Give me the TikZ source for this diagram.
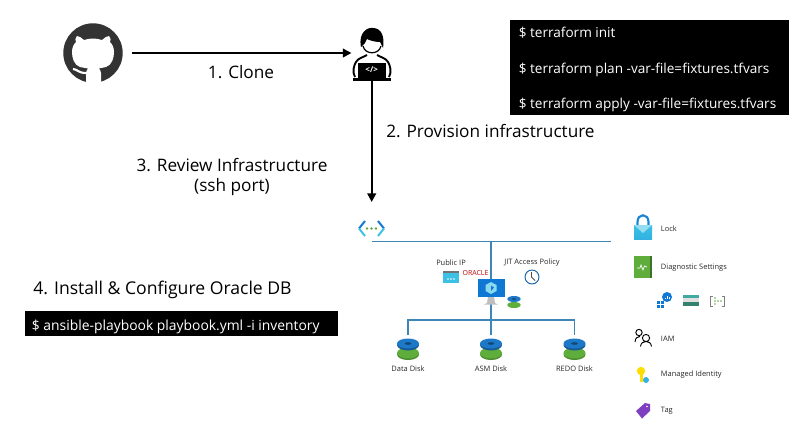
\documentclass[tikz,border=0pt]{standalone}
\usepackage{fontspec}
\usetikzlibrary{arrows.meta}
\setmainfont{Open Sans}
\definecolor{busblue}{HTML}{3F86B8}
\definecolor{diskblue}{HTML}{1E78C8}
\definecolor{diskgreen}{HTML}{5FAE3C}
\definecolor{azcyan}{HTML}{3CC0E4}
\definecolor{azblue}{HTML}{0F78D4}
\definecolor{gitdark}{HTML}{333333}
\tikzset{
  steplabel/.style={text=black,font=\fontsize{12.9}{15}\selectfont,inner sep=0pt},
  smalllabel/.style={text=black!85,font=\fontsize{5.6}{8}\selectfont,inner sep=0pt},
  sidelabel/.style={smalllabel,anchor=west},
  cmdbox/.style={fill=black,inner sep=0pt,anchor=north west},
  cmdtext/.style={text=white,inner sep=0pt,anchor=base west},
  flowline/.style={arrows={-Triangle[length=6.5pt,width=6.5pt]},black,line width=1.5pt},
  busline/.style={busblue,line width=0.9pt},
  disk/.pic={
    \fill[diskgreen!80!black] (0,6) ellipse (11 and 5.5);
    \fill[diskgreen] (0,4.5) ellipse (11 and 5.5);
    \fill[diskblue!75!black] (0,-3.5) ellipse (11 and 5.5);
    \fill[diskblue] (0,-5) ellipse (11 and 5);
    \fill[diskblue!60!black] (0,-5) ellipse (3.5 and 1.3);
  },
}
\begin{document}
\begin{tikzpicture}[x=0.75pt,y=-0.75pt]
\useasboundingbox (0,0) rectangle (804,426);

% github mark
\fill[gitdark] (93,53) circle (29.7);
\fill[white] (86,84) -- (86,73) .. controls (86,71) and (87,70) .. (88,68.5) -- (80,67) .. controls (74,65) and (72,58) .. (72,52)
  .. controls (72,47) and (74,44) .. (76,42) .. controls (75,40) and (75,38) .. (77,36) .. controls (79,36) and (82,38) .. (84,40)
  .. controls (90,38) and (96,38) .. (102,40) .. controls (104,38) and (107,36) .. (109,36) .. controls (111,38) and (111,40) .. (110,42)
  .. controls (112,44) and (114,47) .. (114,52) .. controls (114,58) and (112,65) .. (106,67) -- (99,68.5) .. controls (100,70) and (101,71) .. (101,73) -- (101,84) -- cycle;
\draw[white,line width=1.6pt] (73,69) .. controls (77,69) and (78,73) .. (86,73);
\fill[white] (60,82) rectangle (126,86);
\node[circle,minimum size=58.5pt,inner sep=0pt] (github) at (93,53) {};

% developer
\fill[black] (361,47) .. controls (358,32) and (368,27) .. (373,28) .. controls (381,28) and (385,36) .. (383,48) -- (380,42) .. controls (374,42) and (369,40) .. (367,39) .. controls (366,42) and (364,45) .. (361,47) -- cycle;
\draw[black,line width=0.9pt] (363,46) .. controls (365,55) and (379,55) .. (381,46);
\draw[black,line width=1.4pt,line join=round] (355,77) .. controls (352,72) and (354,65) .. (356,62) .. controls (358,58) and (364,57) .. (367,55)
  (377,55) .. controls (380,57) and (386,58) .. (388,62) .. controls (390,65) and (392,72) .. (389,77);
\fill[black] (358,62.5) rectangle (385.5,78);
\fill[black] (353,78) rectangle (390.5,80.5);
\node[text=white,inner sep=0pt,font=\fontsize{6}{6}\selectfont\bfseries] (code) at (371.7,70) {</>};
\node[inner sep=0pt,minimum width=30pt,minimum height=42pt] (dev) at (371.7,53) {};
\coordinate (netin) at (371.7,202);

% steps
\draw[flowline] (github) -- (dev);
\draw[flowline] (dev) -- (netin);
\path (241,72) node[steplabel] (clone) {1. Clone};
\path (386,131) node[steplabel,anchor=west] (provision) {2. Provision infrastructure};
\path (232,165) node[steplabel] (review) {3. Review Infrastructure};
\path (232,187) node[steplabel] (sshport) {(ssh port)};
\path (33,294) node[steplabel,anchor=base west,font=\fontsize{13.2}{15}\selectfont] (install) {4. Install \& Configure Oracle DB};

% commands
\node[cmdbox,minimum width=208.8pt,minimum height=71.25pt] (tfbox) at (510,20) {};
\path (518.5,37.7) node[cmdtext,font=\fontsize{10.2}{12}\selectfont] (tfinit) {\$ terraform init};
\path (518.5,73) node[cmdtext,font=\fontsize{10.2}{12}\selectfont] (tfplan) {\$ terraform plan -var-file=fixtures.tfvars};
\path (518.5,108.5) node[cmdtext,font=\fontsize{10.2}{12}\selectfont] (tfapply) {\$ terraform apply -var-file=fixtures.tfvars};
\node[cmdbox,minimum width=235pt,minimum height=18.75pt] (ansiblebox) at (24.3,311) {};
\path (31.7,330) node[cmdtext,font=\fontsize{10.4}{12}\selectfont] (ansiblecmd) {\$ ansible-playbook playbook.yml -i inventory};

% network
\coordinate (busleft) at (372,241.5);
\coordinate (busright) at (611,241.5);
\coordinate (bustap) at (491,241.5);
\coordinate (dataknee) at (408,320);
\coordinate (redoknee) at (574.5,320);
\coordinate (datatop) at (408,335);
\coordinate (asmtop) at (491,335);
\coordinate (redotop) at (574.5,335);
\draw[busline] (busleft) -- (busright);
\draw[busline] (bustap) -- (asmtop);
\draw[busline] (datatop) -- (dataknee) -- (redoknee) -- (redotop);

% vnet icon
\draw[azblue,line width=1.5pt] (365,221) -- (359,228.5) (378,221) -- (384,228.5);
\draw[azcyan,line width=1.5pt] (359,228.5) -- (365,236) (384,228.5) -- (378,236);
\foreach \dotx in {367,371.5,376} \fill[diskgreen] (\dotx,228.5) circle (1.4);

% vm
\fill[black!25] (488,297) -- (494,297) -- (495,303) -- (498,304.5) -- (484,304.5) -- (487,303) -- cycle;
\fill[azblue] (478,279) rectangle (504.5,297);
\fill[azcyan!60!white] (491,282) -- (496.5,285) -- (496.5,291) -- (491,294) -- (485.5,291) -- (485.5,285) -- cycle;
\fill[azblue] (491,285.5) -- (494,287.5) -- (491,291) -- cycle;
\begin{scope}[shift={(514,302)}]
\fill[diskgreen] (0,3) ellipse (6.7 and 3);
\fill[diskblue] (0,-3) ellipse (6.7 and 3);
\fill[diskblue!60!black] (0,-3) ellipse (2.2 and 0.8);
\end{scope}

% public ip and policy
\path (451,262.5) node[smalllabel] (publicip) {Public IP};
\path (532,262.5) node[smalllabel] (jitpolicy) {JIT Access Policy};
\fill[azcyan] (443,271) rectangle (459,283);
\fill[black!55] (443,271) rectangle (459,273);
\foreach \dotx in {448,451,454} \fill[white] (\dotx,279) circle (0.8);
\path (475.5,273.5) node[inner sep=0pt,text=red!75!black,font=\fontsize{5.2}{5}\selectfont] (oracle) {ORACLE};
\draw[azblue!80!black,line width=0.7pt,fill=white] (532,277) circle (7);
\draw[black!70,line width=0.6pt] (531.5,272) -- (531.5,277) -- (535,280.5);

% disks
\foreach \diskname/\diskx/\disktext in {datadisk/408/Data Disk,asmdisk/491/ASM Disk,redodisk/574.5/REDO Disk} {
  \path (\diskx,348.5) pic {disk};
  \path (\diskx,368.5) node[smalllabel] (\diskname) {\disktext};
}

% lock
\draw[azblue!80!azcyan,line width=1.6pt] (637.5,225) -- (637.5,222) .. controls (637.5,213) and (648.5,213) .. (648.5,222) -- (648.5,225);
\shade[top color=azcyan,bottom color=azcyan!80!azblue] (634,225) rectangle (652,239);
\fill[azcyan!55!white] (634,225) -- (643,233) -- (652,225) -- cycle;
\path (660.7,229) node[sidelabel] (locklabel) {Lock};

% diagnostic settings
\fill[diskgreen!65!black] (634.5,256) rectangle (652,278);
\fill[diskgreen] (634,256) rectangle (649.5,278);
\draw[white,line width=0.5pt] (637,268) -- (640,268) -- (641,265) -- (643,270) -- (644.5,266) -- (647,267);
\path (660.7,268) node[sidelabel] (diaglabel) {Diagnostic Settings};

% log targets
\foreach \sqx/\sqy in {657/301,661/301,657/305,661/305} \fill[azblue] (\sqx,\sqy) rectangle +(3.3,3.3);
\fill[azblue] (667,297) circle (5);
\draw[white,line width=0.5pt] (665,299) -- (665,297.5) (667,299) -- (667,295.5) (669,299) -- (669,296.5);
\fill[azcyan!70!diskgreen!90!black] (683,294.5) rectangle (699,297.5);
\fill[black!12] (683,297.5) rectangle (699,302);
\fill[azcyan!60!diskgreen!70!black] (683,302) rectangle (699,306);
\draw[black!50,line width=0.6pt] (713,296) -- (710.5,296) -- (710.5,306) -- (713,306) (722,296) -- (724.5,296) -- (724.5,306) -- (722,306);
\foreach \nodex/\nodey in {715/298,715/301,715/304,718/301,721/301} \fill[diskgreen] (\nodex,\nodey) circle (0.8);

% iam
\draw[black,line width=0.7pt] (639,332.5) circle (3.2) (635,342) .. controls (635.5,338) and (637,336.5) .. (640,336.5);
\draw[black,line width=0.7pt] (646,338) circle (3.6) (640.5,346.5) .. controls (641,343) and (643,341.5) .. (646,341.5) .. controls (649,341.5) and (651,343) .. (651.5,346.5);
\path (660.7,338.5) node[sidelabel] (iamlabel) {IAM};

% managed identity
\fill[yellow!80!orange] (641,371) circle (4.2);
\fill[yellow!80!orange] (639.6,373) rectangle (642.6,382);
\fill[azcyan!80!azblue] (646,380) circle (3);
\path (660.7,375) node[sidelabel] (identlabel) {Managed Identity};

% tag
\fill[violet!65!blue!75!white] (636,411) -- (645,403) -- (650,404) -- (650,411) -- (642,418.5) -- cycle;
\fill[white] (647,406.5) circle (0.9);
\path (660.7,411) node[sidelabel] (taglabel) {Tag};

\end{tikzpicture}
\end{document}
